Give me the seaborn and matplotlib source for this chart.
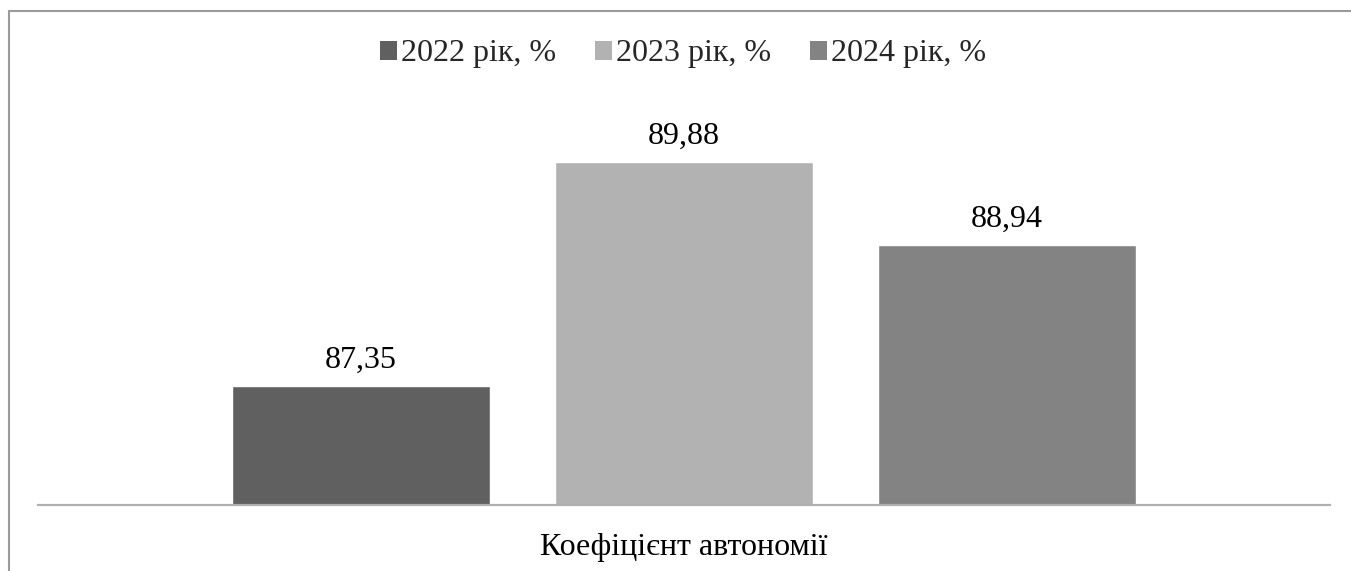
import matplotlib
matplotlib.use("Agg")
import matplotlib.pyplot as plt
import seaborn as sns
import pandas as pd
from matplotlib.lines import Line2D
from matplotlib.patches import Patch

categories = ["Коефіцієнт автономії"]
series = ["2022 рік, %", "2023 рік, %", "2024 рік, %"]
values = [87.35, 89.88, 88.94]
colors = ["#606060", "#b2b2b2", "#838383"]

sns.set_theme(style="white")
plt.rcParams["font.family"] = ["Liberation Serif", "DejaVu Serif"]

df = pd.DataFrame({"cat": categories * len(series), "series": series, "value": values})

W, H = 1351, 571
fig = plt.figure(figsize=(W / 100, H / 100), dpi=100)
ax = fig.add_axes([38 / W, 66 / H, (1330 - 38) / W, (505 - 107) / H])

sns.barplot(data=df, x="cat", y="value", hue="series", palette=colors,
            width=0.75, gap=0.2, ax=ax, legend=False, saturation=1)

ax.set_ylim(86, 90.5)
ax.set_xlim(-0.5, 0.5)
ax.set_yticks([])
ax.set_xlabel("")
ax.set_ylabel("")
for s in ["top", "left", "right"]:
    ax.spines[s].set_visible(False)
ax.spines["bottom"].set_color("#b0b0b0")
ax.spines["bottom"].set_linewidth(1.6)
ax.tick_params(axis="x", length=0, pad=20, labelsize=23, labelcolor="black")

for cont in ax.containers:
    for bar in cont:
        v = bar.get_height()
        ax.annotate(f"{v:.2f}".replace(".", ","),
                    (bar.get_x() + bar.get_width() / 2, v),
                    xytext=(0, 13), textcoords="offset points",
                    ha="center", va="baseline", fontsize=23, color="black")

handles = [Patch(facecolor=c, edgecolor="none") for c in colors]
fig.legend(handles, series, loc="center", bbox_to_anchor=(683 / W, 1 - 54 / H),
           ncol=3, frameon=False, fontsize=23, handlelength=0.53, handleheight=0.53,
           handletextpad=0.12, columnspacing=1.22, borderaxespad=0, borderpad=0)

# outer chart frame (partly cropped)
fig.add_artist(Line2D([8.5 / W, 8.5 / W], [0, 1 - 11 / H], transform=fig.transFigure,
                      color="#9a9a9a", lw=1.5))
fig.add_artist(Line2D([8.5 / W, 1], [1 - 11 / H, 1 - 11 / H], transform=fig.transFigure,
                      color="#9a9a9a", lw=1.5))

fig.savefig("out.png", dpi=100, facecolor="white")
